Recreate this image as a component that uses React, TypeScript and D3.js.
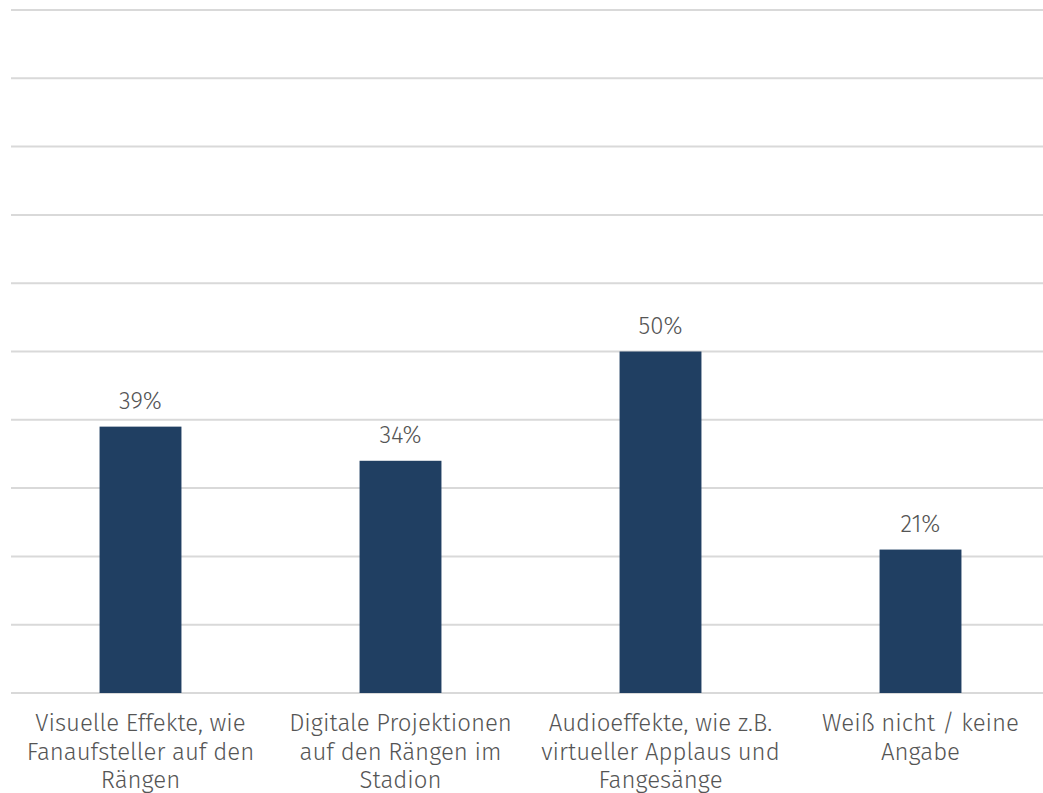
import React from 'react';
import * as d3 from 'd3';

const categories = [
  ['Visuelle Effekte, wie', 'Fanaufsteller auf den', 'Rängen'],
  ['Digitale Projektionen', 'auf den Rängen im', 'Stadion'],
  ['Audioeffekte, wie z.B.', 'virtueller Applaus und', 'Fangesänge'],
  ['Weiß nicht / keine', 'Angabe'],
];
const values = [39, 34, 50, 21];
const yTicks = [0, 10, 20, 30, 40, 50, 60, 70, 80, 90, 100];

const width = 1043;
const height = 793;
const font = "'Fira Sans', 'Noto Sans', sans-serif";

export default function App() {
  const x = d3
    .scaleBand<number>()
    .domain(d3.range(values.length))
    .range([10.5, 1050.5])
    .paddingInner(0.685)
    .paddingOuter(0.3425);

  const y = d3.scaleLinear().domain([0, 100]).range([693, 10]);

  return (
    <svg
      width={width}
      height={height}
      style={{ position: 'absolute', left: 0, top: 0, background: '#fff' }}
    >
      {yTicks.map((t) => (
        <line
          key={t}
          x1={11}
          x2={width}
          y1={y(t)}
          y2={y(t)}
          stroke="#d9d9d9"
          strokeWidth={2}
        />
      ))}
      {values.map((v, i) => (
        <g key={i}>
          <rect
            x={x(i)}
            y={y(v)}
            width={x.bandwidth()}
            height={y(0) - y(v)}
            fill="#203f62"
          />
          <text
            x={(x(i) as number) + x.bandwidth() / 2}
            y={y(v) - 18}
            textAnchor="middle"
            fontFamily={font}
            fontSize={24}
            fontWeight={300}
            fill="#555"
          >
            {v}%
          </text>
        </g>
      ))}
      {categories.map((lines, i) => (
        <text
          key={i}
          textAnchor="middle"
          fontFamily={font}
          fontSize={24}
          fontWeight={300}
          fill="#555"
        >
          {lines.map((l, j) => (
            <tspan key={j} x={(x(i) as number) + x.bandwidth() / 2} y={731 + j * 28.5}>
              {l}
            </tspan>
          ))}
        </text>
      ))}
    </svg>
  );
}
